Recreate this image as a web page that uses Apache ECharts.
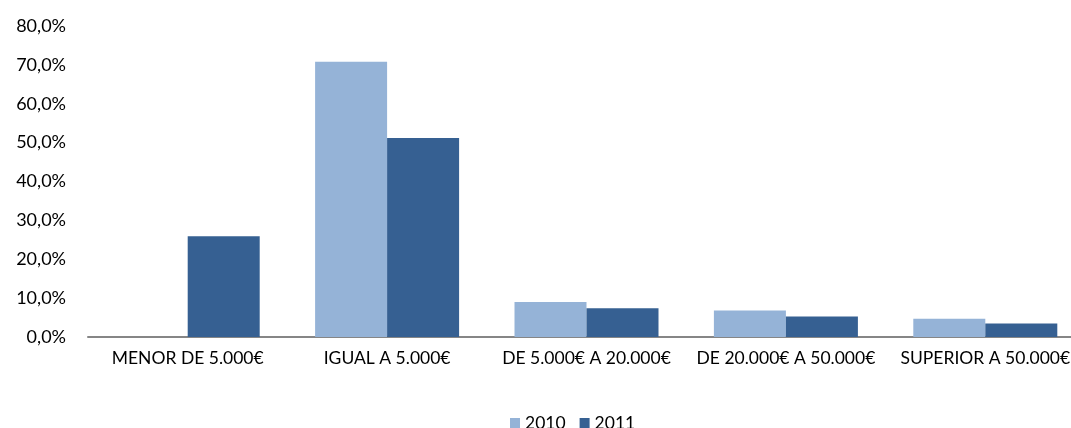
<!DOCTYPE html>
<html>
<head>
<meta charset="utf-8">
<script src="https://cdn.jsdelivr.net/npm/echarts@6/dist/echarts.min.js"></script>
<style>
  html, body { margin: 0; padding: 0; background: #fff; }
  #chart { width: 1071px; height: 428px; }
</style>
</head>
<body>
<div id="chart"></div>
<script>
// categorías y porcentajes
const categories = ['MENOR DE 5.000€', 'IGUAL A 5.000€', 'DE 5.000€ A 20.000€', 'DE 20.000€ A 50.000€', 'SUPERIOR A 50.000€']
const years = ['2010', '2011']
const values2010 = [0, 70.8, 9.0, 6.8, 4.7]
const values2011 = [25.9, 51.2, 7.4, 5.3, 3.5]
const colors = ['#95B3D7', '#366092']

const font = 'Lato, "Open Sans", sans-serif'

const chart = echarts.init(document.getElementById('chart'))

const option = {
  animation: false,
  color: colors,
  textStyle: { fontFamily: font },
  // el área de dibujo sobresale un poco por la derecha, como en el original
  grid: { left: 88, width: 997, top: 26, bottom: 91, outerBoundsMode: 'none' },
  legend: {
    data: years,
    left: 510,
    top: 414,
    padding: 0,
    itemWidth: 10,
    itemHeight: 10,
    itemGap: 14,
    icon: 'rect',
    textStyle: { fontSize: 17.5, color: '#000', fontFamily: font }
  },
  xAxis: {
    type: 'category',
    data: categories,
    axisLine: { lineStyle: { color: '#868686', width: 2 } },
    axisTick: { show: false },
    axisLabel: { color: '#000', fontSize: 17.5, margin: 12, interval: 0, fontFamily: font }
  },
  yAxis: {
    type: 'value',
    min: 0,
    max: 80,
    interval: 10,
    splitLine: { show: false },
    axisLine: { show: false },
    axisTick: { show: false },
    axisLabel: {
      color: '#000',
      fontSize: 18,
      margin: 22,
      fontFamily: font,
      formatter: v => v.toFixed(1).replace('.', ',') + '%'
    }
  },
  series: [
    {
      name: years[0],
      type: 'bar',
      data: values2010,
      barWidth: 72,
      barGap: '0%',
      itemStyle: { color: colors[0] }
    },
    {
      name: years[1],
      type: 'bar',
      data: values2011,
      barWidth: 72,
      barGap: '0%',
      itemStyle: { color: colors[1] }
    }
  ]
}

chart.setOption(option)
</script>
</body>
</html>
